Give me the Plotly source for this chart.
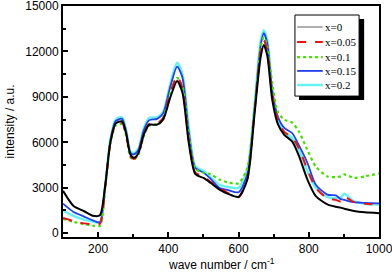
import plotly.graph_objects as go

wavenumber = [100, 130, 160, 185, 205, 220, 235, 250, 268, 280, 292, 302, 315, 330, 345, 368, 385, 406, 425, 440, 458, 477, 500, 520, 545, 570, 600, 625, 645, 663, 672, 682, 696, 712, 730, 753, 772, 796, 820, 853, 877, 891, 901, 929, 960, 1000]

x_0 = [2800, 1800, 1450, 1150, 1180, 3100, 6000, 7250, 7380, 6550, 5200, 4980, 5300, 6500, 7150, 7170, 7500, 9000, 10050, 9300, 6000, 3900, 3650, 3330, 2900, 2600, 2400, 3550, 7750, 11650, 12430, 11700, 8800, 7200, 6500, 6050, 5100, 3550, 2450, 1900, 1750, 1690, 1620, 1470, 1380, 1320]
x_005 = [1000, 800, 650, 600, 620, 3000, 6000, 7200, 7300, 6500, 5100, 4900, 5250, 6500, 7200, 7250, 7600, 9300, 10350, 9600, 6200, 4000, 3750, 3400, 3000, 2650, 2380, 3600, 7900, 12000, 12750, 12000, 9100, 7500, 6700, 6300, 5600, 4200, 3000, 2300, 2200, 2100, 2400, 2050, 1950, 1900]
x_01 = [950, 750, 600, 500, 480, 2900, 5900, 7100, 7200, 6400, 5000, 4850, 5200, 6400, 7100, 7200, 7600, 9300, 10250, 9700, 6500, 4250, 4000, 3900, 3550, 3350, 3300, 4300, 8200, 12300, 12950, 12300, 9900, 8000, 7500, 7300, 6700, 5500, 4400, 3750, 3700, 3750, 3880, 3650, 3750, 3950]
x_015 = [1950, 1400, 1100, 850, 720, 3100, 6100, 7400, 7550, 6700, 5300, 5200, 5500, 6800, 7450, 7550, 7900, 9700, 11000, 10300, 6700, 4300, 4000, 3600, 3000, 2850, 2700, 3900, 8000, 12400, 13200, 12500, 9400, 7700, 6950, 6600, 5800, 4650, 3200, 2550, 2500, 2250, 2200, 2050, 2000, 1970]
x_02 = [1500, 1150, 900, 780, 700, 3100, 6200, 7500, 7650, 6800, 5400, 5300, 5600, 6900, 7600, 7650, 8000, 9900, 11250, 10500, 7000, 4400, 4100, 3700, 3200, 3050, 3000, 4200, 8300, 12700, 13400, 12700, 9300, 7400, 6650, 6300, 5500, 4100, 3000, 2400, 2300, 2350, 2600, 2100, 1950, 1900]

series_names = ["x=0", "x=0.05", "x=0.1", "x=0.15", "x=0.2"]
x_ticks = [200, 400, 600, 800, 1000]
y_ticks = [0, 3000, 6000, 9000, 12000, 15000]

plot_styles = {
    "x=0": dict(color="black", width=2),
    "x=0.05": dict(color="#ee1111", width=2, dash="dash"),
    "x=0.1": dict(color="#44e000", width=2.2, dash="dot"),
    "x=0.15": dict(color="#1f3ff0", width=1.8),
    "x=0.2": dict(color="#66f2f0", width=2.5),
}
legend_styles = dict(plot_styles)
legend_styles["x=0"] = dict(color="#b0b0b0", width=2)

values = {"x=0": x_0, "x=0.05": x_005, "x=0.1": x_01, "x=0.15": x_015, "x=0.2": x_02}

fig = go.Figure()
for name in ["x=0.2", "x=0.15", "x=0.1", "x=0.05", "x=0"]:
    fig.add_trace(go.Scatter(x=wavenumber, y=values[name], mode="lines", name=name,
                             line=dict(shape="spline", smoothing=0.7, **plot_styles[name]),
                             showlegend=False))

axis_common = dict(showline=True, linecolor="black", linewidth=2, mirror=True,
                   ticks="inside", ticklen=5, tickwidth=1.5, tickcolor="black",
                   showgrid=False, zeroline=False, automargin=False,
                   tickfont=dict(family="Liberation Sans, Arial", size=12, color="black"))

fig.update_xaxes(range=[100, 1000], tickvals=x_ticks, ticktext=[str(v) for v in x_ticks],
                 ticklabeloverflow="allow",
                 minor=dict(ticks="inside", ticklen=3, tickwidth=1.5, tickcolor="black", dtick=100, tick0=0),
                 **axis_common)
fig.update_yaxes(range=[-250, 15000], tickvals=y_ticks, ticktext=[str(v) for v in y_ticks],
                 ticklabeloverflow="allow",
                 minor=dict(ticks="inside", ticklen=3, tickwidth=1.5, tickcolor="black", dtick=1500, tick0=0),
                 **axis_common)

# axis titles
title_font = dict(family="Liberation Sans, Arial", size=12, color="black")
fig.add_annotation(text="wave number / cm<sup>-1</sup>", xref="paper", yref="paper",
                   x=0.5, y=-0.115, xanchor="center", yanchor="middle",
                   showarrow=False, font=title_font)
fig.add_annotation(text="intensity / a.u.", xref="paper", yref="paper",
                   x=-0.168, y=0.5, xanchor="center", yanchor="middle", textangle=-90,
                   showarrow=False, font=title_font)

# legend: shadow, box, samples, labels
fig.add_shape(type="rect", xref="paper", yref="paper",
              x0=0.747, x1=0.953, y0=0.593, y1=0.944,
              fillcolor="black", line=dict(width=0), layer="above")
fig.add_shape(type="rect", xref="paper", yref="paper",
              x0=0.734, x1=0.937, y0=0.610, y1=0.961,
              fillcolor="white", line=dict(color="black", width=1), layer="above")
entry_y = [0.909, 0.844, 0.779, 0.719, 0.658]
for name, yy in zip(series_names, entry_y):
    fig.add_shape(type="line", xref="paper", yref="paper",
                  x0=0.741, x1=0.822, y0=yy, y1=yy,
                  line=legend_styles[name], layer="above")
    fig.add_annotation(text=name, xref="paper", yref="paper",
                       x=0.822, y=yy, xanchor="left", yanchor="middle", showarrow=False,
                       font=dict(family="Liberation Serif, Times New Roman", size=11, color="black"))

fig.update_layout(
    width=392, height=278,
    margin=dict(l=63, r=13, t=6, b=41),
    plot_bgcolor="white", paper_bgcolor="white",
    showlegend=False,
)

fig.write_html("out.html", config={"displayModeBar": False},
               post_script="document.body.style.margin='0';document.body.style.padding='0';")
